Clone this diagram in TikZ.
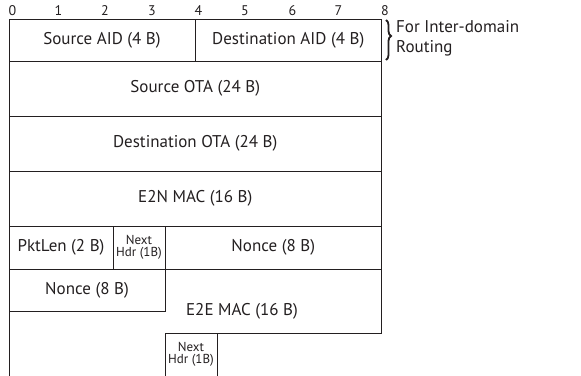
\documentclass[tikz,border=0pt]{standalone}
\usepackage{fontspec}
\setmainfont{PT Sans}
\usetikzlibrary{decorations.pathreplacing}
\definecolor{ink}{HTML}{231F20}
\tikzset{
  field/.style={draw=ink, line width=1pt, inner sep=0pt, outer sep=0pt,
    font=\fontsize{17}{19}\selectfont, text=ink},
  smallfield/.style={field, font=\fontsize{13}{14}\selectfont, align=center},
  label/.style={inner sep=0pt, font=\fontsize{17}{19}\selectfont, text=ink},
  tick/.style={inner sep=0pt, font=\fontsize{14}{15}\selectfont, text=ink},
  outline/.style={draw=ink, line width=1pt},
}
\begin{document}
\begin{tikzpicture}[x=1pt, y=-1pt]
\useasboundingbox (0,0) rectangle (581,375);

% byte ruler
\foreach \i/\x in {0/12.5,1/58.5,2/105,3/152,4/198.5,5/245,6/292.5,7/338.5,8/385}
  \node[tick] (r\i) at (\x,11) {\i};

% row 1: inter-domain addresses
\node[field, minimum width=186pt, minimum height=42pt] (said) at (102,40) {Source AID (4 B)};
\node[field, minimum width=186.5pt, minimum height=42pt] (daid) at (288.25,40) {Destination AID (4 B)};

% full-width rows
\node[field, minimum width=372.5pt, minimum height=55pt] (sota) at (195.25,88.5) {Source OTA (24 B)};
\node[field, minimum width=372.5pt, minimum height=55pt] (dota) at (195.25,143.5) {Destination OTA (24 B)};
\node[field, minimum width=372.5pt, minimum height=55pt] (e2n) at (195.25,198.5) {E2N MAC (16 B)};

% row 5
\node[field, minimum width=104pt, minimum height=43pt] (plen) at (61,247.5) {PktLen (2 B)};
\node[smallfield, minimum width=52pt, minimum height=43pt] (nh1) at (139,247.5) {Next\\[-2pt]Hdr (1B)};
\node[field, minimum width=216.5pt, minimum height=43pt] (nonce1) at (273.25,247.5) {Nonce (8 B)};

% row 6
\node[field, minimum width=156pt, minimum height=42.7pt] (nonce2) at (87,290.35) {Nonce (8 B)};

% E2E MAC region (irregular outline)
\draw[outline] (381.5,269) -- (381.5,333) -- (165,333);
\draw[outline] (9,311.7) -- (9,376);
\node[label] (e2e) at (242,311) {E2E MAC (16 B)};

% trailing next header, open at the bottom
\draw[outline] (165,376) -- (165,333) -- (217,333) -- (217,376);
\node[smallfield, draw=none] (nh2) at (191,354.5) {Next\\[-2pt]Hdr (1B)};

% brace and note
\draw[ink, line width=1.8pt, decorate, decoration={brace, amplitude=5pt, aspect=0.4}]
  (386,20) -- (386,60);
\node[label, anchor=west] (note1) at (396,27) {For Inter-domain};
\node[label, anchor=west] (note2) at (396,48) {Routing};
\end{tikzpicture}
\end{document}
